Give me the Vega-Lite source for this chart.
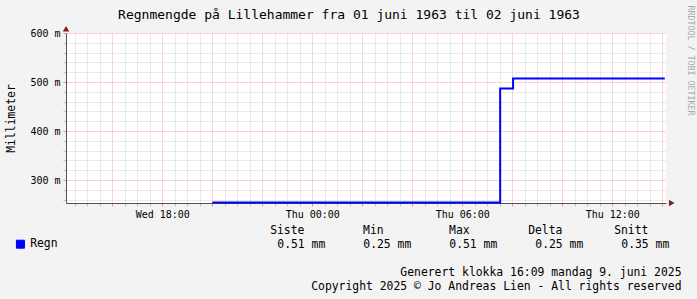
{
  "$schema": "https://vega.github.io/schema/vega-lite/v6.json",
  "width": 600,
  "height": 170,
  "autosize": "none",
  "padding": {"left": 66, "top": 33, "right": 31, "bottom": 96},
  "background": "#f3f3f3",
  "config": {
    "font": "DejaVu Sans Mono",
    "view": {"stroke": null, "fill": "#ffffff"}
  },
  "datasets": {
    "regn": [
      {"tid": "1969-12-31T20:00:00Z", "mm": 0.254, "serie": "Regn"},
      {"tid": "1970-01-01T07:31:00Z", "mm": 0.487, "serie": "Regn"},
      {"tid": "1970-01-01T08:02:00Z", "mm": 0.507, "serie": "Regn"},
      {"tid": "1970-01-01T14:06:00Z", "mm": 0.507, "serie": "Regn"}
    ],
    "stats": [
      {"stat": "Siste", "verdi": "0.51 mm"},
      {"stat": "Min", "verdi": "0.25 mm"},
      {"stat": "Max", "verdi": "0.51 mm"},
      {"stat": "Delta", "verdi": "0.25 mm"},
      {"stat": "Snitt", "verdi": "0.35 mm"}
    ]
  },
  "layer": [
    {
      "layer": [
        {
          "data": {"name": "regn"},
          "mark": {"type": "line", "interpolate": "step-after", "strokeWidth": 2},
          "encoding": {
            "x": {
              "field": "tid",
              "type": "temporal",
              "scale": {"type": "utc", "domain": [-35460000, 50940000]},
              "axis": {
                "title": ["Generert klokka 16:09 mandag 9. juni 2025", "Copyright 2025 © Jo Andreas Lien - All rights reserved"],
                "titleFontSize": 11.4,
                "titleFontWeight": "normal",
                "titleColor": "#000000",
                "titleAlign": "right",
                "titleAnchor": "end",
                "titleX": 615,
                "titleY": 72,
                "titleBaseline": "alphabetic",
                "titleLineHeight": 14,
                "tickCount": 200,
                "values": [-34200000, -32400000, -30600000, -28800000, -27000000, -25200000, -23400000, -21600000, -19800000, -18000000, -16200000, -14400000, -12600000, -10800000, -9000000, -7200000, -5400000, -3600000, -1800000, 0, 1800000, 3600000, 5400000, 7200000, 9000000, 10800000, 12600000, 14400000, 16200000, 18000000, 19800000, 21600000, 23400000, 25200000, 27000000, 28800000, 30600000, 32400000, 34200000, 36000000, 37800000, 39600000, 41400000, 43200000, 45000000, 46800000, 48600000, 50400000],
                "labelExpr": "utchours(datum.value) % 6 == 0 && utcminutes(datum.value) == 0 ? utcFormat(datum.value, '%a %H:%M') : ''",
                "labelFontSize": 10,
                "labelColor": "#000000",
                "labelOverlap": false,
                "labelFlush": false,
                "labelBound": false,
                "labelPadding": 3,
                "tickSize": 3,
                "tickColor": {"condition": {"test": "utchours(datum.value) % 2 == 0 && utcminutes(datum.value) == 0", "value": "#e89090"}, "value": "#c0c0c0"},
                "grid": true,
                "gridDash": [1, 1],
                "gridWidth": 1,
                "gridColor": {"condition": {"test": "utchours(datum.value) % 2 == 0 && utcminutes(datum.value) == 0", "value": "#f2a8a8"}, "value": "#d4d4d4"},
                "domainColor": "#555555",
                "domainWidth": 1
              }
            },
            "y": {
              "field": "mm",
              "type": "quantitative",
              "scale": {"domain": [0.2531, 0.6], "nice": false, "zero": false},
              "axis": {
                "tickCount": 200,
                "values": [0.26, 0.28, 0.3, 0.32, 0.34, 0.36, 0.38, 0.4, 0.42, 0.44, 0.46, 0.48, 0.5, 0.52, 0.54, 0.56, 0.58, 0.6],
                "labelExpr": "round(datum.value * 1000) % 100 == 0 ? format(datum.value * 1000, 'd') + ' m' : ''",
                "labelFontSize": 10,
                "labelColor": "#000000",
                "labelPadding": 3,
                "labelOverlap": false,
                "labelBound": false,
                "labelFlush": false,
                "tickSize": 3,
                "tickColor": {"condition": {"test": "round(datum.value * 1000) % 100 == 0", "value": "#e89090"}, "value": "#c0c0c0"},
                "grid": true,
                "gridDash": [1, 1],
                "gridWidth": 1,
                "gridColor": {"condition": {"test": "round(datum.value * 1000) % 100 == 0", "value": "#f2a8a8"}, "value": "#d4d4d4"},
                "domainColor": "#555555",
                "domainWidth": 1,
                "title": "Millimeter",
                "titleFontSize": 11.4,
                "titleFontWeight": "normal",
                "titleColor": "#000000",
                "titleAngle": 270,
                "titleX": -55,
                "titleY": 85,
                "titleAlign": "center",
                "titleBaseline": "middle"
              }
            },
            "color": {
              "field": "serie",
              "type": "nominal",
              "scale": {"domain": ["Regn"], "range": ["#0000ff"]},
              "legend": {
                "orient": "none",
                "legendX": -51.25,
                "legendY": 205.5,
                "title": null,
                "padding": 0,
                "symbolType": "square",
                "symbolSize": 64,
                "symbolFillColor": "#0000ff",
                "symbolStrokeColor": "#000000",
                "symbolStrokeWidth": 1,
                "labelFontSize": 11.4,
                "labelColor": "#000000",
                "labelOffset": 4
              }
            }
          }
        },
        {
          "data": {"values": [{}]},
          "mark": {"type": "point", "shape": "triangle-up", "filled": true, "color": "#7f1f1f", "size": 40, "opacity": 1},
          "encoding": {
            "x": {"datum": -35460000, "type": "temporal"},
            "y": {"datum": 0.6088, "type": "quantitative"}
          }
        },
        {
          "data": {"values": [{}]},
          "mark": {"type": "point", "shape": "triangle-right", "filled": true, "color": "#7f1f1f", "size": 40, "opacity": 1},
          "encoding": {
            "x": {"datum": 51760000, "type": "temporal"},
            "y": {"datum": 0.2531, "type": "quantitative"}
          }
        }
      ]
    },
    {
      "data": {"name": "stats"},
      "layer": [
        {
          "mark": {"type": "text", "align": "center", "baseline": "middle", "fontSize": 11.4, "dx": 10, "color": "#000000"},
          "encoding": {
            "x": {
              "field": "stat",
              "type": "nominal",
              "scale": {"type": "point", "domain": ["Siste", "Min", "Max", "Delta", "Snitt"], "range": [211.3, 555.3], "padding": 0},
              "axis": {
                "orient": "top",
                "labels": false,
                "ticks": false,
                "domain": false,
                "grid": false,
                "title": "Regnmengde på Lillehammer fra 01 juni 1963 til 02 juni 1963",
                "titleX": 282.5,
                "titleY": -14.5,
                "titleAlign": "center",
                "titleBaseline": "alphabetic",
                "titleFontSize": 13,
                "titleFontWeight": "normal",
                "titleColor": "#000000"
              }
            },
            "y": {
              "datum": "hdr",
              "type": "nominal",
              "scale": {"type": "point", "domain": ["hdr", "val"], "range": [198.3, 212.3], "padding": 0},
              "axis": {
                "orient": "right",
                "labels": false,
                "ticks": false,
                "domain": false,
                "grid": false,
                "title": "RRDTOOL / TOBI OETIKER",
                "titleAngle": 90,
                "titleX": 23.3,
                "titleY": 27,
                "titleAlign": "center",
                "titleBaseline": "middle",
                "titleFontSize": 8.3,
                "titleFontWeight": "normal",
                "titleColor": "#a8a8a8"
              }
            },
            "text": {"field": "stat"}
          }
        },
        {
          "mark": {"type": "text", "align": "left", "baseline": "middle", "fontSize": 11.4, "color": "#000000"},
          "encoding": {
            "x": {"field": "stat", "type": "nominal"},
            "y": {"datum": "val", "type": "nominal"},
            "text": {"field": "verdi"}
          }
        }
      ]
    }
  ],
  "resolve": {"scale": {"x": "independent", "y": "independent"}}
}
